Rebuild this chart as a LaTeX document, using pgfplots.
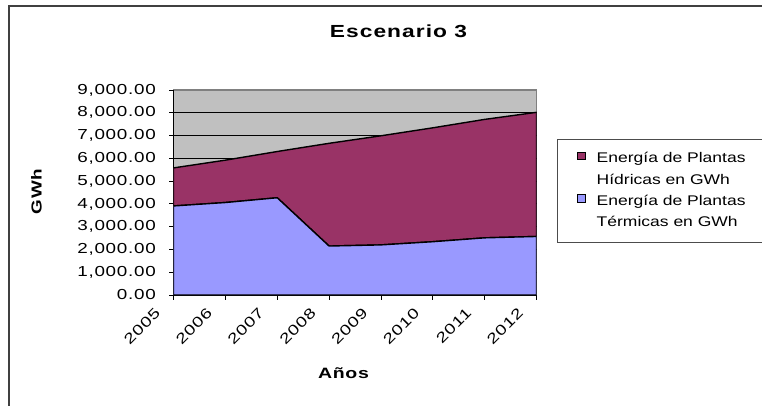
\documentclass[border=0pt]{standalone}
\usepackage{fontspec}
\setmainfont{Liberation Sans}[FakeStretch=1.25]
\newfontfamily\tickfont{Liberation Sans}[FakeStretch=1.3, LetterSpace=5]
\newfontfamily\titlefont{Liberation Sans}[FakeStretch=1.3, LetterSpace=6]
\usepackage{pgfplots}
\pgfplotsset{compat=1.18}
\definecolor{termica}{HTML}{9999FF}
\definecolor{hidrica}{HTML}{993366}
\definecolor{fondo}{HTML}{C0C0C0}

% generacion por año (GWh)
\pgfplotstableread{
anio termica hidrica
2005 3910 1670
2006 4060 1860
2007 4270 2030
2008 2150 4510
2009 2200 4790
2010 2340 5000
2011 2510 5200
2012 2570 5450
}\datos

\begin{document}
\begin{tikzpicture}
\path[use as bounding box] (0bp,0bp) rectangle (762bp,-406bp);
\draw[black!75, line width=1.6bp] (9bp,-410bp) -- (9bp,-6bp) -- (770bp,-6bp);

\node[font=\titlefont\bfseries\fontsize{17.5bp}{20bp}\selectfont] at (398.5bp,-31.5bp) {Escenario 3};
\node[font=\tickfont\bfseries\fontsize{14.5bp}{16bp}\selectfont, rotate=90] at (36.5bp,-191.5bp) {GWh};
\node[font=\tickfont\bfseries\fontsize{15bp}{17bp}\selectfont] at (343.5bp,-373bp) {Años};

\begin{axis}[
    at={(173.5bp,-295bp)}, anchor=south west,
    scale only axis, width=363bp, height=205bp,
    xmin=2005, xmax=2012, ymin=0, ymax=9000,
    axis lines=left,
    axis line style={-, black, line width=1bp},
    axis background/.style={fill=fondo, draw=gray, line width=1.5bp},
    xtick={2005,...,2012},
    xticklabels={2005,2006,2007,2008,2009,2010,2011,2012},
    ytick={0,1000,...,8000},
    extra y ticks={9000},
    extra y tick style={grid=none},
    ymajorgrids,
    grid style={black, line width=0.8bp},
    tick align=outside,
    major tick length=4.5bp,
    tick style={black, line width=0.8bp},
    tick label style={font=\tickfont\fontsize{14.5bp}{16bp}\selectfont},
    yticklabel style={anchor=east, inner sep=0pt, xshift=-13bp,
        /pgf/number format/.cd, fixed, fixed zerofill, precision=2,
        1000 sep={,}, assume math mode=true},
    xticklabel style={shift={(-19.5bp,-7bp)}, rotate=45, anchor=north east, inner sep=0pt},
    stack plots=y,
    legend image code/.code={
        \draw[#1, draw=black, line width=0.8bp] (0bp,-0.5bp) rectangle (7.5bp,7bp);},
    legend style={at={(axis description cs:1.0565,0.761)}, anchor=north west,
        draw=black!70, line width=0.8bp, fill=white,
        inner xsep=20bp, inner ysep=10.5bp, row sep=3.3bp, column sep=9bp,
        font=\fontsize{14bp}{19bp}\selectfont,
        nodes={inner sep=2bp, text height=11bp, text depth=3bp}},
    legend cell align=left,
]
\addplot[fill=termica, draw=black, line width=1.4bp, line join=round, forget plot]
    table[x=anio, y=termica] {\datos} \closedcycle;
\addplot[fill=hidrica, draw=black, line width=1.4bp, line join=round, forget plot]
    table[x=anio, y=hidrica] {\datos} \closedcycle;

\addlegendimage{fill=hidrica}
\addlegendentry{Energía de Plantas\hspace{60bp}}
\addlegendimage{empty legend}
\addlegendentry{Hídricas en GWh}
\addlegendimage{fill=termica}
\addlegendentry{Energía de Plantas}
\addlegendimage{empty legend}
\addlegendentry{Térmicas en GWh}
\end{axis}
\end{tikzpicture}
\end{document}
